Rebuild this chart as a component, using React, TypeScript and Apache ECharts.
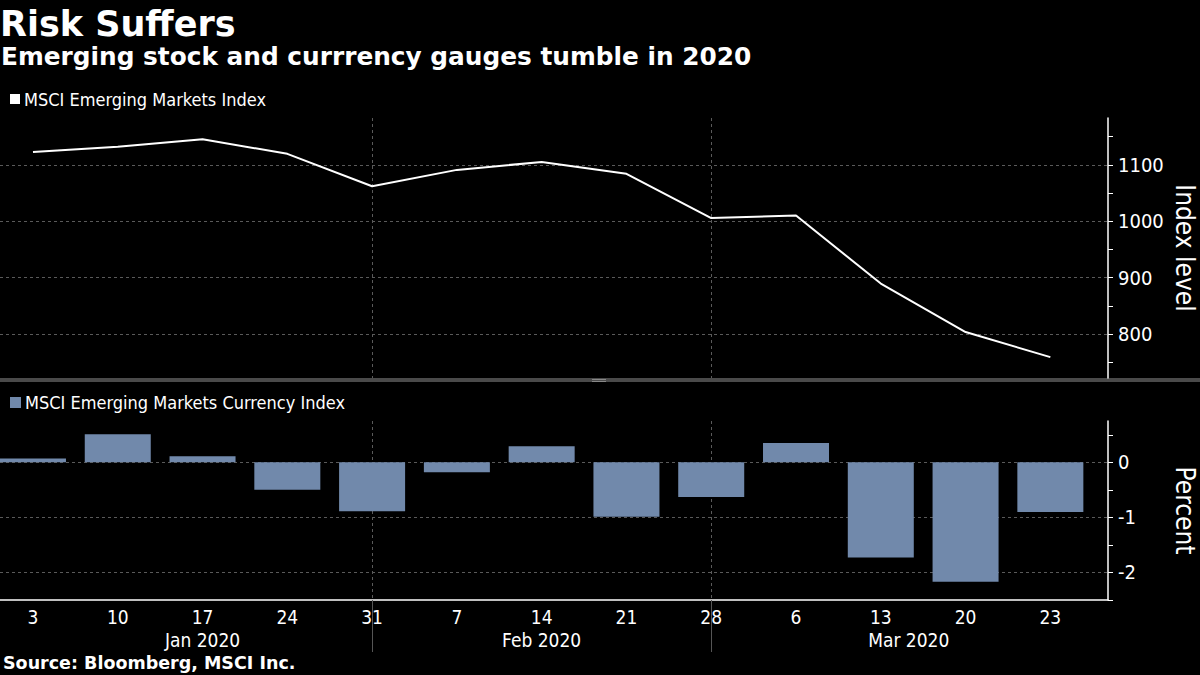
import React, { useEffect, useRef } from "react";
import * as echarts from "echarts";

// ---- data ----
const dayLabels = ["3", "10", "17", "24", "31", "7", "14", "21", "28", "6", "13", "20", "23"];
const monthLabels = ["Jan 2020", "Feb 2020", "Mar 2020"];
const monthLabelPositions = [2, 6, 10.33];
const monthBoundaries = [4, 8];
const stockIndex = [1122.5, 1132, 1145.5, 1119.5, 1062, 1091, 1105, 1084, 1005.5, 1010, 889.5, 803.5, 759];
const currencyChange = [0.07, 0.51, 0.11, -0.5, -0.89, -0.18, 0.29, -0.99, -0.63, 0.35, -1.73, -2.17, -0.9];
const indexLabelTicks = [800, 900, 1000, 1100];
const indexMinorTicks = [750, 800, 850, 900, 950, 1000, 1050, 1100, 1150];
const percentLabelTicks = [-2, -1, 0];
const percentMinorTicks = [-2.5, -2, -1.5, -1, -0.5, 0, 0.5];

const FONT = "'Liberation Sans Narrow', 'DejaVu Sans Condensed', 'Liberation Sans', sans-serif";
const BOLD_FONT = "'DejaVu Sans', 'Liberation Sans', sans-serif";
const BAR_COLOR = "#7189ab";
const GRID_COLOR = "#5a5a5a";
const X_MIN = -0.389;
const X_MAX = 12.68;

export default function App() {
  const ref = useRef<HTMLDivElement>(null);
  useEffect(() => {
    if (!ref.current) return;
    const chart = echarts.init(ref.current, undefined, { renderer: "svg" });
    const dayIdx = dayLabels.map((_, i) => i);
    const plain = (v: number) => String(v);
    const option: any = {
      animation: false,
      backgroundColor: "#000",
      textStyle: { fontFamily: FONT },
      grid: [
        { left: 0, right: 92, top: 118, height: 260, containLabel: false, outerBoundsMode: "none" },
        { left: 0, right: 92, top: 421, height: 179, containLabel: false, outerBoundsMode: "none" },
      ],
      xAxis: [
        {
          gridIndex: 0, type: "value", position: "bottom", min: X_MIN, max: X_MAX,
          axisLine: { show: false, onZero: false },
          axisTick: { show: false, customValues: monthBoundaries },
          axisLabel: { show: false, customValues: monthBoundaries },
          splitLine: { show: true, lineStyle: { color: GRID_COLOR, type: [3, 3], width: 1 } },
        },
        {
          gridIndex: 1, type: "value", position: "bottom", min: X_MIN, max: X_MAX,
          axisLine: { show: true, onZero: false, lineStyle: { color: "#fff", width: 1.5 } },
          axisTick: { show: false, customValues: dayIdx },
          axisLabel: {
            customValues: dayIdx,
            formatter: (v: number) => dayLabels[Math.round(v)],
            color: "#fff", fontSize: 19, margin: 7, fontFamily: FONT,
          },
          splitLine: { show: false },
        },
        {
          gridIndex: 1, type: "value", position: "bottom", min: X_MIN, max: X_MAX,
          axisLine: { show: false, onZero: false },
          axisTick: { show: true, customValues: monthBoundaries, length: 52, lineStyle: { color: "#555", width: 1 } },
          axisLabel: {
            customValues: monthLabelPositions,
            formatter: (v: number) => {
              let best = 0;
              monthLabelPositions.forEach((p, i) => {
                if (Math.abs(p - v) < Math.abs(monthLabelPositions[best] - v)) best = i;
              });
              return monthLabels[best];
            },
            color: "#fff", fontSize: 19, margin: 30, fontFamily: FONT,
          },
          splitLine: { show: true, lineStyle: { color: GRID_COLOR, type: [3, 3], width: 1 } },
        },
      ],
      yAxis: [
        {
          gridIndex: 0, type: "value", position: "right", min: 722, max: 1183,
          axisLine: { show: true, onZero: false, lineStyle: { color: "#fff", width: 1.5 } },
          axisTick: { show: true, customValues: indexMinorTicks, length: 5, lineStyle: { color: "#fff" } },
          axisLabel: { show: false, customValues: indexMinorTicks },
          splitLine: { show: false },
          name: "Index level", nameLocation: "middle", nameRotate: -90, nameGap: 64,
          nameTextStyle: { color: "#fff", fontSize: 26, fontFamily: FONT },
        },
        {
          gridIndex: 0, type: "value", position: "right", min: 722, max: 1183,
          axisLine: { show: false, onZero: false },
          axisTick: { show: false, customValues: indexLabelTicks },
          axisLabel: { customValues: indexLabelTicks, formatter: plain, color: "#fff", fontSize: 20, margin: 10, fontFamily: FONT },
          splitLine: { show: true, lineStyle: { color: GRID_COLOR, type: [3, 3], width: 1 } },
        },
        {
          gridIndex: 1, type: "value", position: "right", min: -2.5, max: 0.75,
          axisLine: { show: true, onZero: false, lineStyle: { color: "#fff", width: 1.5 } },
          axisTick: { show: true, customValues: percentMinorTicks, length: 5, lineStyle: { color: "#fff" } },
          axisLabel: { show: false, customValues: percentMinorTicks },
          splitLine: { show: false },
          name: "Percent", nameLocation: "middle", nameRotate: -90, nameGap: 64,
          nameTextStyle: { color: "#fff", fontSize: 26, fontFamily: FONT },
        },
        {
          gridIndex: 1, type: "value", position: "right", min: -2.5, max: 0.75,
          axisLine: { show: false, onZero: false },
          axisTick: { show: false, customValues: percentLabelTicks },
          axisLabel: { customValues: percentLabelTicks, formatter: plain, color: "#fff", fontSize: 20, margin: 10, fontFamily: FONT },
          splitLine: { show: true, lineStyle: { color: GRID_COLOR, type: [3, 3], width: 1 } },
        },
      ],
      series: [
        {
          name: "MSCI Emerging Markets Index", type: "line", xAxisIndex: 0, yAxisIndex: 0,
          data: stockIndex.map((v, i) => [i, v]),
          symbol: "none", lineStyle: { color: "#fff", width: 2 }, z: 5,
        },
        {
          name: "MSCI Emerging Markets Currency Index", type: "bar", xAxisIndex: 1, yAxisIndex: 2,
          data: currencyChange.map((v, i) => [i, v]),
          barWidth: 66, itemStyle: { color: BAR_COLOR }, z: 5,
        },
      ],
      graphic: [
        { type: "text", left: 0, top: 6, style: { text: "Risk Suffers", fill: "#fff", font: `bold 35px ${BOLD_FONT}` } },
        { type: "text", left: 1, top: 44, style: { text: "Emerging stock and currrency gauges tumble in 2020", fill: "#fff", font: `bold 24.8px ${BOLD_FONT}` } },
        { type: "rect", shape: { x: 10, y: 94, width: 10, height: 10 }, style: { fill: "#fff" } },
        { type: "text", left: 24, top: 90, style: { text: "MSCI Emerging Markets Index", fill: "#fff", font: `18px ${FONT}` } },
        { type: "rect", shape: { x: 0, y: 378, width: 1200, height: 4 }, style: { fill: "#4a4a4a" } },
        { type: "rect", shape: { x: 592, y: 379, width: 14, height: 1 }, style: { fill: "#888" } },
        { type: "rect", shape: { x: 592, y: 381, width: 14, height: 1 }, style: { fill: "#888" } },
        { type: "rect", shape: { x: 10, y: 397, width: 11, height: 11 }, style: { fill: BAR_COLOR } },
        { type: "text", left: 25, top: 393, style: { text: "MSCI Emerging Markets Currency Index", fill: "#fff", font: `18px ${FONT}` } },
        { type: "text", left: 3, top: 654, style: { text: "Source: Bloomberg, MSCI Inc.", fill: "#fff", font: `bold 17.5px ${BOLD_FONT}` } },
      ],
    };
    chart.setOption(option);
    return () => chart.dispose();
  }, []);
  return (
    <div
      ref={ref}
      style={{ position: "fixed", left: 0, top: 0, width: 1200, height: 675, background: "#000" }}
    />
  );
}
